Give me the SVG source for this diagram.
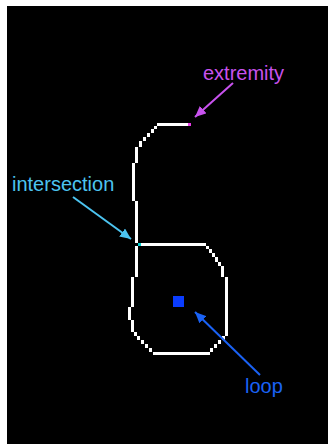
<svg xmlns="http://www.w3.org/2000/svg" width="328" height="444" viewBox="0 0 328 444">
<style>
.px{fill:#ffffff}
.lbl{font-family:"Liberation Sans",Arial,Helvetica,sans-serif;font-size:20px}
.arr{stroke-width:2;fill:none}
</style>
<defs>
<marker id="hM" markerUnits="userSpaceOnUse" markerWidth="12" markerHeight="10" refX="11" refY="5" orient="auto"><path d="M0,0 L11,5 L0,10 Z" fill="#c852ee"/></marker>
<marker id="hC" markerUnits="userSpaceOnUse" markerWidth="12" markerHeight="10" refX="11" refY="5" orient="auto"><path d="M0,0 L11,5 L0,10 Z" fill="#4cc4f0"/></marker>
<marker id="hB" markerUnits="userSpaceOnUse" markerWidth="12" markerHeight="10" refX="11" refY="5" orient="auto"><path d="M0,0 L11,5 L0,10 Z" fill="#1a62f5"/></marker>
</defs>
<rect x="7" y="6" width="321" height="438" fill="#000000"/>
<g id="shape" shape-rendering="crispEdges">
<rect class="px" x="157" y="123" width="31" height="3"/>
<rect x="188" y="123" width="3" height="3" fill="#e83ce8"/>
<rect class="px" x="154" y="126" width="3" height="3"/>
<rect class="px" x="151" y="129" width="3" height="4"/>
<rect class="px" x="147" y="133" width="3" height="4"/>
<rect class="px" x="143" y="137" width="3" height="4"/>
<rect class="px" x="139" y="141" width="3" height="6"/>
<rect class="px" x="135" y="147" width="3" height="16"/>
<rect class="px" x="132" y="163" width="3" height="38"/>
<rect class="px" x="135" y="201" width="3" height="42"/>
<rect x="138" y="243" width="3" height="3" fill="#00d4d4"/>
<rect class="px" x="141" y="243" width="65" height="3"/>
<rect class="px" x="206" y="246" width="3" height="3"/>
<rect class="px" x="209" y="249" width="3" height="4"/>
<rect class="px" x="212" y="253" width="3" height="4"/>
<rect class="px" x="215" y="257" width="3" height="5"/>
<rect class="px" x="218" y="262" width="3" height="4"/>
<rect class="px" x="221" y="266" width="3" height="11"/>
<rect class="px" x="225" y="277" width="3" height="59"/>
<rect class="px" x="222" y="336" width="3" height="4"/>
<rect class="px" x="218" y="340" width="3" height="4"/>
<rect class="px" x="214" y="344" width="3" height="4"/>
<rect class="px" x="210" y="348" width="3" height="4"/>
<rect class="px" x="153" y="352" width="57" height="3"/>
<rect class="px" x="149" y="348" width="3" height="4"/>
<rect class="px" x="145" y="344" width="3" height="4"/>
<rect class="px" x="141" y="340" width="3" height="4"/>
<rect class="px" x="137" y="336" width="3" height="4"/>
<rect class="px" x="134" y="332" width="3" height="4"/>
<rect class="px" x="131" y="320" width="3" height="12"/>
<rect class="px" x="128" y="307" width="3" height="13"/>
<rect class="px" x="131" y="277" width="3" height="30"/>
<rect class="px" x="135" y="246" width="3" height="31"/>
<rect x="173" y="296" width="11" height="11" fill="#0a3cff"/>
</g>
<g id="connectors">
<line class="arr" x1="233" y1="83" x2="195" y2="117" stroke="#c852ee" marker-end="url(#hM)"/>
<line class="arr" x1="73" y1="197" x2="131" y2="239" stroke="#4cc4f0" marker-end="url(#hC)"/>
<line class="arr" x1="260" y1="375" x2="195" y2="312" stroke="#1a62f5" marker-end="url(#hB)"/>
</g>
<g id="label-extremity"><text class="lbl" x="203" y="80" fill="#c852ee">extremity</text></g>
<g id="label-intersection"><text class="lbl" x="12" y="191" fill="#4cc4f0">intersection</text></g>
<g id="label-loop"><text class="lbl" x="245" y="393" fill="#1a62f5">loop</text></g>
</svg>
